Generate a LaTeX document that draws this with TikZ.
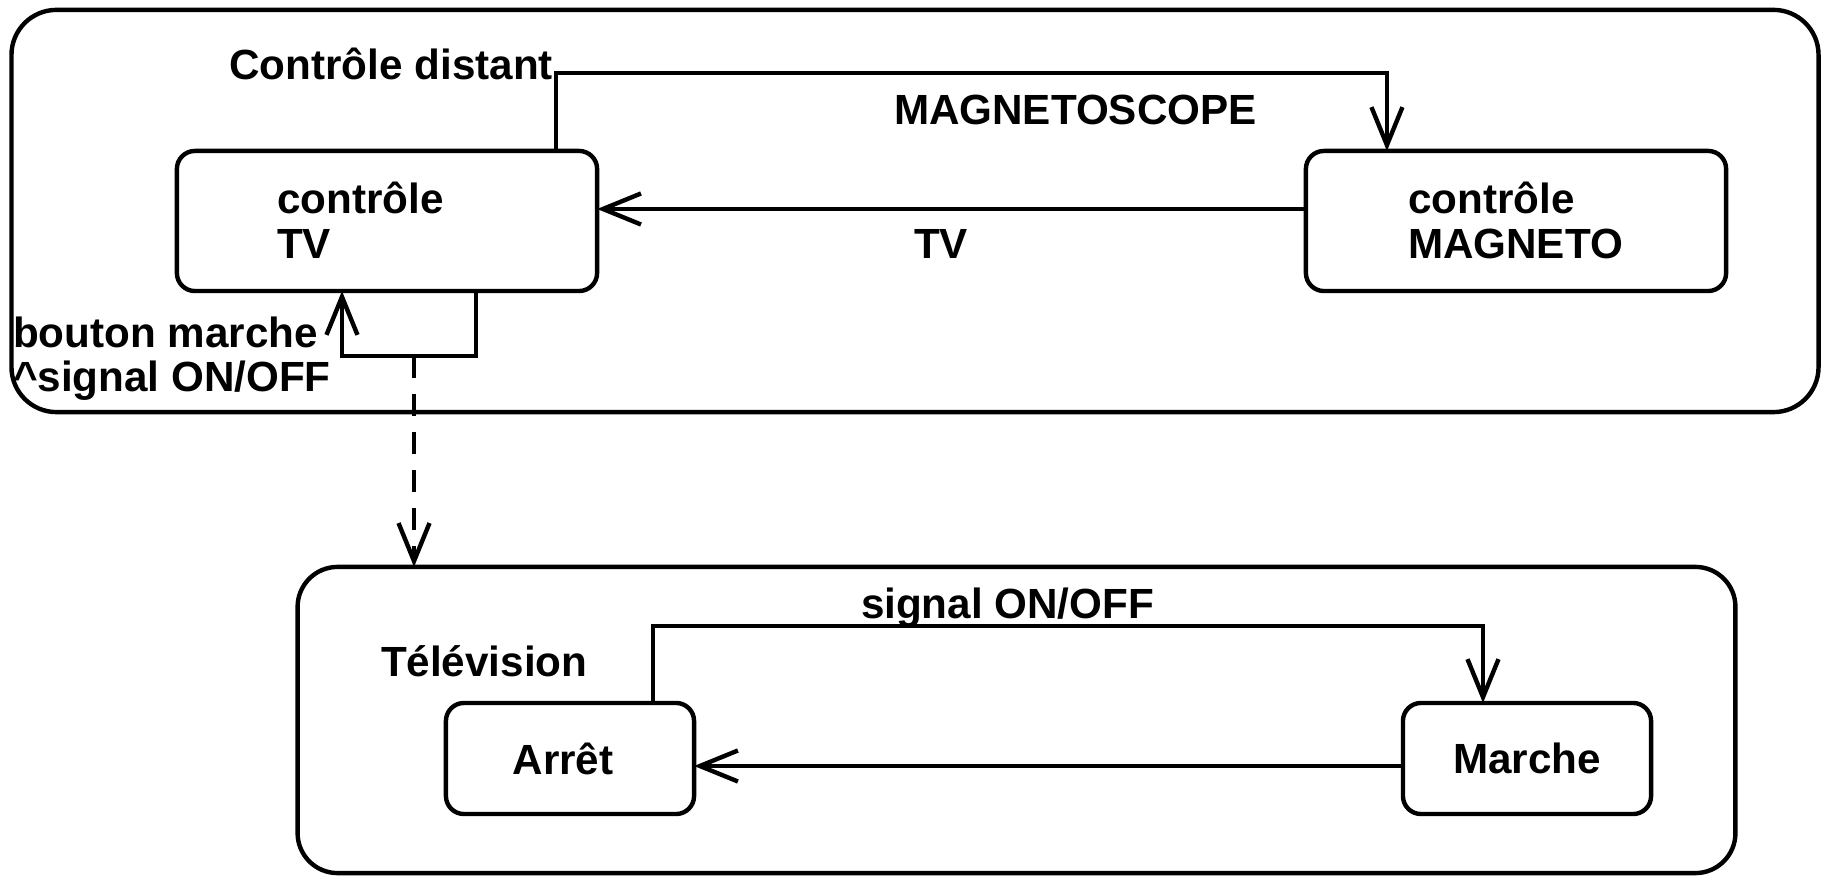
\documentclass[tikz,border=0pt]{standalone}
\usepackage{fontspec}
\setmainfont{Liberation Sans}
\usetikzlibrary{arrows.meta,calc}
\begin{document}
\begin{tikzpicture}[x=0.01cm,y=0.01cm,
  every node/.style={font=\bfseries\fontsize{12}{14}\selectfont, inner sep=0pt, outer sep=0pt},
  region/.style={draw, line width=0.044cm, rounded corners=0.45cm},
  statebox/.style={draw, line width=0.044cm, rounded corners=0.18cm},
  lbl/.style={anchor=base west},
  conn/.style={line width=0.044cm, -{Straight Barb[length=0.38cm,width=0.31cm]}},
  dep/.style={conn, dash pattern=on 0.22cm off 0.16cm},
]
\useasboundingbox (0,0) rectangle (1825,-877);

% regions
\node[region, minimum width=18.06cm, minimum height=4.02cm] (outer1) at (915,-211) {};
\node[region, rounded corners=0.40cm, minimum width=14.37cm, minimum height=3.06cm] (outer2) at (1016.5,-720) {};

% states
\node[statebox, minimum width=4.2cm, minimum height=1.4cm] (tv) at (387,-221) {};
\node[statebox, minimum width=4.2cm, minimum height=1.4cm] (mag) at (1516,-221) {};
\node[statebox, minimum width=2.48cm, minimum height=1.11cm] (arret) at (570,-758.5) {\raisebox{-0.03cm}{\hspace*{-0.14cm}Arrêt}};
\node[statebox, minimum width=2.48cm, minimum height=1.11cm] (marche) at (1527,-758.5) {\raisebox{-0.03cm}{Marche}};

% texts in boxes
\node[lbl] (tv1) at (277,-214) {contrôle};
\node[lbl] (tv2) at (277,-259) {TV};
\node[lbl] (mg1) at (1408,-214) {contrôle};
\node[lbl] (mg2) at (1408,-259) {MAGNETO};

% region titles
\node[anchor=base east] (t1) at (553,-80) {Contrôle distant};
\node[lbl] (t2) at (381,-676) {Télévision};

% connectors
\draw[conn] ([xshift=-0.41cm]tv.north east) -- ++(0,78) -| ([xshift=0.81cm]mag.north west);
\node[lbl] (l1) at (894,-125) {MAGNETOSCOPE};

\draw[conn] ([yshift=0.12cm]mag.west) -- ([yshift=0.12cm]tv.east);
\node[lbl] (l2) at (914,-259) {TV};

\draw[conn] ([xshift=-1.21cm]tv.south east) -- ++(0,-65) -| ([xshift=1.65cm]tv.south west);
\node[lbl] (l3a) at (13,-348) {bouton marche};
\node[lbl] (l3b) at (13,-392) {\textasciicircum signal ON/OFF};

\coordinate (loopb) at ([xshift=-1.83cm,yshift=-0.65cm]tv.south east);
\draw[dep] (loopb) -- (loopb |- outer2.north);

\draw[conn] ([xshift=-0.41cm]arret.north east) -- ++(0,77) -| ([xshift=0.80cm]marche.north west);
\node[lbl] (l4) at (861,-619) {signal ON/OFF};

\draw[conn] ([yshift=-0.075cm]marche.west) -- ([yshift=-0.075cm]arret.east);
\end{tikzpicture}
\end{document}
